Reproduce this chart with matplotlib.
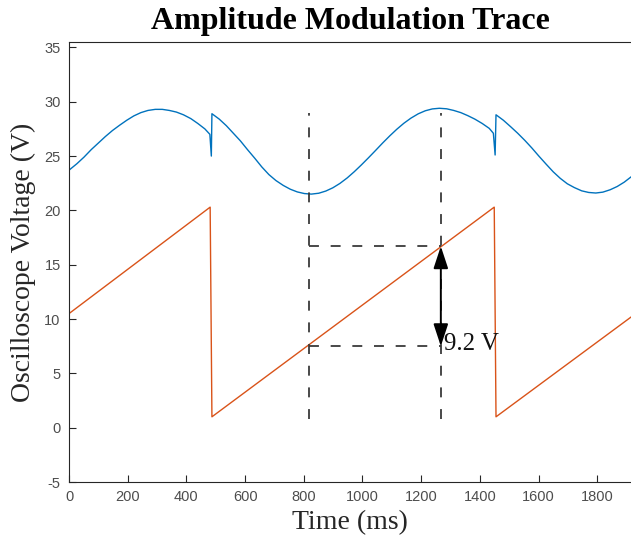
import matplotlib
matplotlib.use("Agg")
import matplotlib.pyplot as plt

plt.rcParams["axes.unicode_minus"] = False

# ---- data ----
blue_t = [0, 27, 51, 76, 100, 124, 148, 173, 197, 221, 245, 269, 294, 318, 342, 366,
          390, 415, 439, 463, 480, 485, 487,
          512, 536, 560, 584, 608, 633, 657, 681, 705, 730, 754, 778, 802, 826, 851,
          875, 899, 923, 948, 972, 996, 1020, 1044, 1069, 1093, 1117, 1141, 1165,
          1190, 1214, 1238, 1262, 1287, 1311, 1335, 1359, 1383, 1408, 1432, 1446,
          1452, 1455,
          1480, 1505, 1529, 1553, 1577, 1601, 1626, 1650, 1674, 1698, 1722, 1747,
          1771, 1795, 1819, 1844, 1868, 1892, 1916]
blue_v = [23.7, 24.3, 24.9, 25.6, 26.2, 26.8, 27.35, 27.85, 28.3, 28.7, 29.0, 29.2, 29.3,
          29.3, 29.2, 29.05, 28.8, 28.45, 28.0, 27.5, 27.0, 25.0, 28.9,
          28.4, 27.8, 27.1, 26.4, 25.6, 24.8, 24.0, 23.3, 22.75, 22.3, 21.95, 21.7,
          21.55, 21.5, 21.58, 21.78, 22.08, 22.48, 22.99, 23.56, 24.18, 24.83, 25.5,
          26.21, 26.86, 27.47, 28.02, 28.49, 28.89, 29.17, 29.34, 29.4, 29.35, 29.2,
          29.0, 28.72, 28.4, 28.0, 27.55, 27.1, 25.1, 28.8,
          28.3, 27.7, 27.1, 26.45, 25.75, 25.0, 24.25, 23.55, 22.95, 22.45, 22.1, 21.8,
          21.65, 21.6, 21.68, 21.9, 22.2, 22.6, 23.1]

orange_t = [0, 481, 487, 1449, 1455, 1916]
orange_v = [10.5, 20.3, 1.0, 20.3, 1.0, 10.2]

marker_t = [817, 1267]          # vertical dashed cursors
level_v = [7.5, 16.7]           # horizontal dashed cursors
cursor_v_range = [0.8, 29.0]
delta_label = "9.2 V"

xticks = [0, 200, 400, 600, 800, 1000, 1200, 1400, 1600, 1800]
yticks = [-5, 0, 5, 10, 15, 20, 25, 30, 35]

serif = ["Liberation Serif", "DejaVu Serif"]
sans = ["Liberation Sans", "DejaVu Sans"]

fig = plt.figure(figsize=(6.31, 5.5), dpi=100)
ax = fig.add_axes([69/631, 68/550, 562/631, 440/550])

ax.plot(blue_t, blue_v, color="#0072BD", lw=1.0)
ax.plot(orange_t, orange_v, color="#D95319", lw=1.0)

dash_kw = dict(color="#3a3a3a", lw=1.3, dashes=(5.5, 6.5))
for t in marker_t:
    ax.plot([t, t], cursor_v_range, **dash_kw)
for v in level_v:
    ax.plot(marker_t, [v, v], **dash_kw)

ax.annotate("", xy=(marker_t[1], level_v[1]), xytext=(marker_t[1], level_v[0]),
            arrowprops=dict(arrowstyle="<|-|>,head_length=0.85,head_width=0.28",
                            color="black", lw=1.4, mutation_scale=16,
                            shrinkA=0, shrinkB=0))
ax.text(marker_t[1] + 12, level_v[0] + 0.2, delta_label, family=serif, fontsize=18,
        ha="left", va="center", color="#111111")

ax.set_xlim(0, 1915)
ax.set_ylim(-5, 35.5)
ax.set_xticks(xticks)
ax.set_yticks(yticks)
ax.tick_params(direction="in", length=5, width=0.8, colors="#262626",
               labelsize=10.5, top=False, right=False, pad=6)
for lab in ax.get_xticklabels() + ax.get_yticklabels():
    lab.set_family(sans)
    lab.set_color("#4d4d4d")
ax.spines["right"].set_visible(False)
for s in ["left", "bottom", "top"]:
    ax.spines[s].set_color("#262626")
    ax.spines[s].set_linewidth(0.8)

ax.set_xlabel("Time (ms)", family=serif, fontsize=20, color="#262626", labelpad=4)
ax.set_ylabel("Oscilloscope Voltage (V)", family=serif, fontsize=20, color="#262626", labelpad=6)
fig.text(350/631, 1 - 29/550, "Amplitude Modulation Trace", family=serif,
         fontsize=23, fontweight="bold", ha="center", va="baseline")

fig.savefig("out.png", dpi=100)
